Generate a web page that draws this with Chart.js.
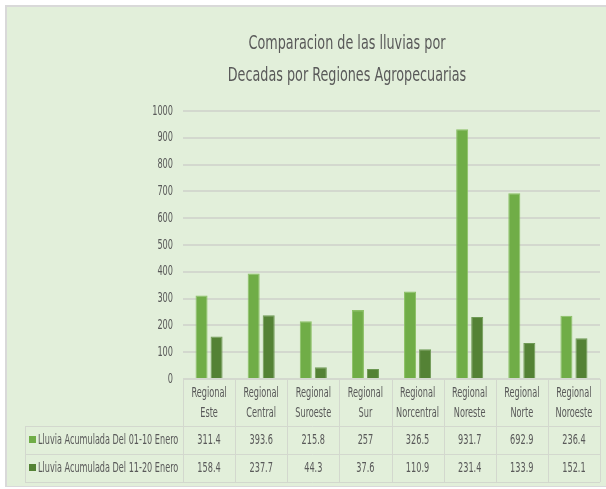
<!DOCTYPE html>
<html>
<head>
<meta charset="utf-8">
<script src="https://cdn.jsdelivr.net/npm/chart.js@4"></script>
<style>
  html, body { margin: 0; padding: 0; background: #fff; }
  #wrap { width: 606px; height: 489px; }
</style>
</head>
<body>
<div id="wrap"><canvas id="chart" width="606" height="489"></canvas></div>
<script>
var regiones = [
  ['Regional', 'Este'], ['Regional', 'Central'], ['Regional', 'Suroeste'], ['Regional', 'Sur'],
  ['Regional', 'Norcentral'], ['Regional', 'Noreste'], ['Regional', 'Norte'], ['Regional', 'Noroeste']
];
var serie1Nombre = 'Lluvia Acumulada Del 01-10 Enero';
var serie1 = [311.4, 393.6, 215.8, 257, 326.5, 931.7, 692.9, 236.4];
var serie2Nombre = 'Lluvia Acumulada Del 11-20 Enero';
var serie2 = [158.4, 237.7, 44.3, 37.6, 110.9, 231.4, 133.9, 152.1];
var tituloLineas = ['Comparacion de las lluvias por', 'Decadas por Regiones Agropecuarias'];

var FUENTE = "'DejaVu Sans Condensed', 'DejaVu Sans', sans-serif";
var GRIS_TEXTO = '#595959';
var GRIS_LINEA = '#d3d8ce';
var VERDE_1 = '#70ad47';
var VERDE_2 = '#548235';

// texto estrecho (la imagen original está comprimida a lo ancho)
function texto(ctx, str, x, y, align, size, sx) {
  ctx.save();
  ctx.font = size + 'px ' + FUENTE;
  ctx.textAlign = align;
  ctx.textBaseline = 'middle';
  ctx.translate(x, y);
  ctx.scale(sx, 1);
  ctx.fillText(str, 0, 0);
  ctx.restore();
}

// Fondo verde con marco gris arriba / izquierda
var fondo = {
  id: 'fondo',
  beforeDraw: function (chart) {
    var ctx = chart.ctx;
    ctx.save();
    ctx.fillStyle = '#ffffff';
    ctx.fillRect(0, 0, chart.width, chart.height);
    ctx.fillStyle = '#d9d9d9';
    ctx.fillRect(5, 5, chart.width - 5, chart.height - 7);
    ctx.fillStyle = '#e2efda';
    ctx.fillRect(7, 7, chart.width - 7, chart.height - 10);
    ctx.restore();
  }
};

// Título, etiquetas de ejes y tabla de datos (estilo Excel)
var textos = {
  id: 'textos',
  afterDraw: function (chart) {
    var ctx = chart.ctx;
    var x = chart.scales.x;
    var y = chart.scales.y;
    var area = chart.chartArea;
    var n = regiones.length;
    var colW = (area.right - area.left) / n;

    ctx.save();
    ctx.fillStyle = GRIS_TEXTO;

    // título
    tituloLineas.forEach(function (t, i) {
      texto(ctx, t, 347, 44 + i * 32, 'center', 20, 0.71);
    });

    // eje Y
    y.ticks.forEach(function (t) {
      texto(ctx, String(t.value), area.left - 10, y.getPixelForValue(t.value), 'right', 14, 0.65);
    });

    // tabla
    var top = area.bottom;
    var finCab = top + 47;
    var filaH = 28;
    var izq = 25;
    var abajo = finCab + 2 * filaH;

    ctx.strokeStyle = GRIS_LINEA;
    ctx.lineWidth = 1;
    ctx.beginPath();
    ctx.moveTo(area.left, top + 0.5); ctx.lineTo(area.right, top + 0.5);
    [finCab, finCab + filaH, abajo].forEach(function (yy) {
      ctx.moveTo(izq, Math.round(yy) + 0.5); ctx.lineTo(area.right, Math.round(yy) + 0.5);
    });
    for (var i = 0; i <= n; i++) {
      var bx = Math.round(area.left + i * colW) + 0.5;
      ctx.moveTo(bx, top); ctx.lineTo(bx, abajo);
    }
    ctx.moveTo(izq + 0.5, finCab); ctx.lineTo(izq + 0.5, abajo);
    ctx.stroke();

    // categorías
    regiones.forEach(function (lineas, i) {
      var px = x.getPixelForValue(i);
      lineas.forEach(function (l, k) {
        texto(ctx, l, px, top + 14 + k * 20, 'center', 14, 0.65);
      });
    });

    // filas de series
    chart.data.datasets.forEach(function (ds, r) {
      var yc = finCab + filaH * r + filaH / 2;
      ctx.fillStyle = ds.backgroundColor;
      ctx.fillRect(izq + 4, yc - 4, 7, 7);
      ctx.fillStyle = GRIS_TEXTO;
      texto(ctx, ds.label, izq + 13, yc, 'left', 14, 0.645);
      ds.data.forEach(function (v, i) {
        texto(ctx, String(v), x.getPixelForValue(i), yc, 'center', 14, 0.65);
      });
    });
    ctx.restore();
  }
};

new Chart(document.getElementById('chart'), {
  type: 'bar',
  data: {
    labels: regiones,
    datasets: [
      { label: serie1Nombre, data: serie1, backgroundColor: VERDE_1, borderColor: '#8cc166', borderWidth: 1 },
      { label: serie2Nombre, data: serie2, backgroundColor: VERDE_2, borderColor: '#6f9a55', borderWidth: 1 }
    ]
  },
  plugins: [fondo, textos],
  options: {
    responsive: false,
    animation: false,
    layout: { padding: { left: 94, right: 6, top: 111, bottom: 0 } },
    datasets: { bar: { categoryPercentage: 0.577, barPercentage: 0.8 } },
    plugins: {
      legend: { display: false },
      tooltip: { enabled: false },
      title: { display: false }
    },
    scales: {
      x: {
        grid: { display: false, drawTicks: false },
        border: { display: false },
        ticks: { display: false },
        afterFit: function (s) { s.height = 110; }
      },
      y: {
        min: 0,
        max: 1000,
        ticks: { stepSize: 100, display: false },
        grid: { color: GRIS_LINEA, lineWidth: 2, drawTicks: false },
        border: { display: false },
        afterFit: function (s) { s.width = 89; }
      }
    }
  }
});
</script>
</body>
</html>
